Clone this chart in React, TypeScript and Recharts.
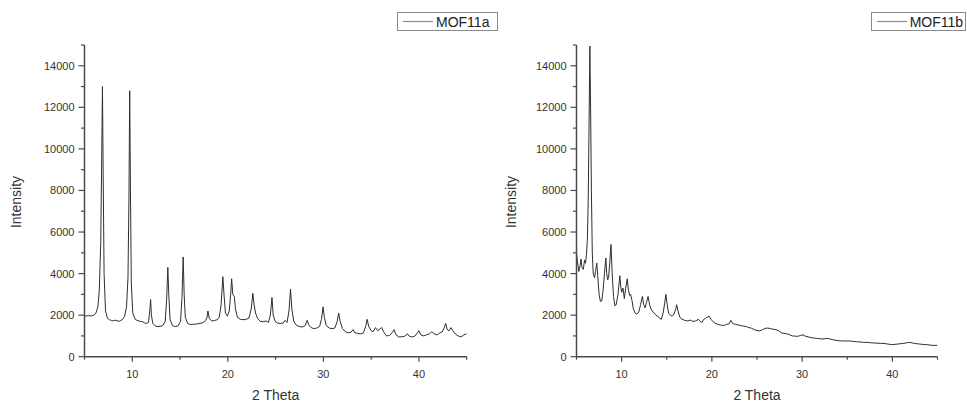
import React from 'react';
import { LineChart, Line, XAxis, YAxis, Legend, Label } from 'recharts';

// MOF11a pattern (2 Theta, Intensity)
const mof11aTheta = [
  5.0, 5.2, 5.4, 5.6, 5.8, 6.0, 6.2, 6.4, 6.55, 6.7, 6.8, 6.88, 6.95, 7.05, 7.2, 7.4, 7.6, 7.8, 8.0, 8.2,
  8.4, 8.6, 8.8, 9.0, 9.2, 9.4, 9.55, 9.65, 9.73, 9.8, 9.9, 10.05, 10.3, 10.5, 10.7, 10.9, 11.1, 11.3, 11.5, 11.7,
  11.85, 11.92, 12.0, 12.15, 12.4, 12.6, 12.9, 13.2, 13.45, 13.6, 13.72, 13.82, 13.95, 14.2, 14.5, 14.8, 15.05, 15.2, 15.33, 15.43,
  15.55, 15.8, 16.1, 16.4, 16.7, 17.0, 17.3, 17.6, 17.8, 17.92, 18.05, 18.3, 18.6, 18.9, 19.1, 19.3, 19.48, 19.6, 19.75, 19.95,
  20.15, 20.3, 20.4, 20.52, 20.68, 20.8, 21.0, 21.3, 21.6, 21.9, 22.2, 22.45, 22.62, 22.75, 22.9, 23.1, 23.4, 23.7, 24.0, 24.25,
  24.45, 24.62, 24.75, 24.95, 25.2, 25.5, 25.8, 26.0, 26.2, 26.4, 26.56, 26.7, 26.9, 27.2, 27.5, 27.8, 28.1, 28.3, 28.5, 28.8,
  29.1, 29.4, 29.6, 29.8, 29.97, 30.1, 30.3, 30.6, 30.9, 31.2, 31.45, 31.6, 31.75, 32.0, 32.3, 32.6, 32.9, 33.1, 33.3, 33.6,
  33.9, 34.2, 34.45, 34.58, 34.75, 35.0, 35.2, 35.45, 35.7, 35.95, 36.1, 36.3, 36.6, 36.9, 37.2, 37.4, 37.6, 37.9, 38.2, 38.5,
  38.8, 39.0, 39.3, 39.6, 39.85, 40.0, 40.2, 40.5, 40.8, 41.1, 41.35, 41.6, 41.9, 42.2, 42.45, 42.65, 42.8, 42.95, 43.15, 43.35,
  43.55, 43.8, 44.1, 44.4, 44.7, 45.0,
];
const mof11aIntensity = [
  1980, 1950, 1990, 1960, 1970, 2000, 2100, 2400, 3200, 5500, 9500, 13000, 9000, 4000, 2200, 1850, 1780, 1750, 1720, 1760,
  1730, 1700, 1740, 1800, 1950, 2400, 3800, 7500, 12800, 8500, 3500, 2100, 1800, 1750, 1720, 1690, 1680, 1620, 1600, 1650,
  2300, 2750, 2000, 1600, 1480, 1450, 1460, 1500, 1700, 2800, 4300, 3000, 1800, 1500, 1450, 1480, 1700, 2800, 4800, 3000,
  1900, 1600, 1550, 1560, 1570, 1600, 1620, 1700, 1850, 2200, 1850, 1720, 1740, 1780, 1900, 2500, 3850, 3000, 2100, 1950,
  2200, 3000, 3750, 3000, 2900, 2300, 1900, 1800, 1780, 1800, 1850, 2300, 3050, 2500, 2100, 1850, 1700, 1680, 1720, 1650,
  2000, 2850, 2000, 1700, 1620, 1600, 1620, 1750, 1650, 2200, 3250, 2300, 1700, 1500, 1450, 1430, 1500, 1750, 1500, 1380,
  1350, 1400, 1450, 1800, 2400, 1900, 1500, 1380, 1350, 1380, 1700, 2100, 1700, 1350, 1200, 1150, 1180, 1300, 1150, 1120,
  1100, 1150, 1500, 1800, 1450, 1250, 1200, 1400, 1250, 1350, 1400, 1200, 1000, 1020, 1150, 1300, 1050, 950, 960, 980,
  1100, 980, 950, 1000, 1150, 1250, 1050, 1000, 1050, 1100, 1200, 1100, 1050, 1150, 1200, 1400, 1600, 1300, 1250, 1400,
  1250, 1100, 1000, 950, 1050, 1100,
];

// MOF11b pattern (2 Theta, Intensity)
const mof11bTheta = [
  5.0, 5.1, 5.25, 5.4, 5.5, 5.6, 5.75, 5.9, 6.0, 6.1, 6.2, 6.3, 6.4, 6.48, 6.56, 6.65, 6.75, 6.85, 7.0, 7.1,
  7.25, 7.35, 7.5, 7.65, 7.8, 7.95, 8.1, 8.25, 8.35, 8.45, 8.55, 8.7, 8.82, 8.95, 9.1, 9.25, 9.4, 9.6, 9.8, 9.9,
  10.0, 10.15, 10.3, 10.45, 10.62, 10.75, 10.9, 11.0, 11.15, 11.3, 11.5, 11.7, 11.9, 12.1, 12.3, 12.45, 12.6, 12.75, 12.93, 13.1,
  13.25, 13.4, 13.6, 13.8, 14.0, 14.2, 14.4, 14.6, 14.78, 14.9, 15.05, 15.2, 15.4, 15.6, 15.8, 16.0, 16.1, 16.25, 16.45, 16.7,
  17.0, 17.3, 17.6, 17.9, 18.2, 18.5, 18.7, 18.9, 19.1, 19.3, 19.5, 19.7, 19.9, 20.1, 20.4, 20.7, 21.0, 21.3, 21.6, 21.9,
  22.1, 22.3, 22.6, 22.9, 23.2, 23.5, 23.8, 24.1, 24.4, 24.7, 25.0, 25.3, 25.6, 25.9, 26.2, 26.5, 26.8, 27.1, 27.4, 27.7,
  28.0, 28.3, 28.6, 28.9, 29.2, 29.5, 29.8, 30.1, 30.4, 30.7, 31.0, 31.3, 31.6, 31.9, 32.2, 32.5, 32.8, 33.1, 33.4, 33.7,
  34.0, 34.4, 34.8, 35.2, 35.6, 36.0, 36.4, 36.8, 37.2, 37.6, 38.0, 38.4, 38.8, 39.2, 39.6, 40.0, 40.4, 40.8, 41.2, 41.6,
  41.9, 42.2, 42.6, 43.0, 43.4, 43.8, 44.2, 44.6, 45.0,
];
const mof11bIntensity = [
  5000, 4600, 4100, 4400, 4700, 4300, 4200, 4650, 4500, 4900, 5600, 7500, 11500, 14950, 12000, 8000, 5000, 4000, 3800, 4100,
  4500, 3900, 3000, 2650, 2700, 3200, 4000, 4750, 4000, 3700, 3800, 4600, 5400, 4000, 2900, 2450, 2500, 3000, 3900, 3400,
  3100, 3300, 2800, 3300, 3750, 3200, 2950, 3000, 2700, 2300, 2100, 2050, 2150, 2500, 2900, 2500, 2350, 2600, 2900, 2500,
  2300, 2200, 2100, 2000, 1950, 1850, 1800, 2100, 2600, 3000, 2500, 2100, 2000, 1950, 2050, 2300, 2500, 2200, 1900, 1800,
  1750, 1720, 1760, 1700, 1720, 1800, 1700, 1650, 1800, 1850, 1900, 1950, 1800, 1700, 1600, 1550, 1520, 1500, 1550, 1580,
  1750, 1600, 1560, 1530, 1500, 1470, 1450, 1400, 1370, 1300, 1260, 1240, 1300, 1360, 1380, 1350, 1320, 1300, 1250, 1150,
  1120, 1100, 1060, 1000, 990, 980, 1020, 1050, 980, 950, 920, 900, 880, 870, 850, 870, 880, 850, 820, 790,
  770, 760, 755, 760, 740, 720, 710, 690, 690, 670, 660, 650, 640, 630, 600, 580, 600, 620, 640, 670,
  690, 660, 630, 610, 590, 580, 560, 540, 550,
];

const thetaTicks = [5, 10, 15, 20, 25, 30, 35, 40, 45];
const intensityTicks = [0, 1000, 2000, 3000, 4000, 5000, 6000, 7000, 8000, 9000, 10000, 11000, 12000, 13000, 14000, 15000];

const AXIS = '#4a4a4a';
const TEXT = '#333';
const FONT = '"Liberation Sans", Arial, sans-serif';

const zip = (xs: number[], ys: number[]) => xs.map((t, i) => ({ theta: t, intensity: ys[i] }));

const YTick = (props: any) => {
  const { x, y, payload } = props;
  const v = payload.value as number;
  const major = v % 2000 === 0 && v <= 14000;
  const len = major ? 6 : 3.5;
  return (
    <g>
      <line x1={x - len} x2={x} y1={y} y2={y} stroke={AXIS} strokeWidth={1.2} />
      {major && (
        <text x={x - len - 4} y={y} dy={4} textAnchor="end" fontSize={11} fill={TEXT} fontFamily={FONT}>
          {v}
        </text>
      )}
    </g>
  );
};

const XTick = (props: any) => {
  const { x, y, payload } = props;
  const v = payload.value as number;
  const major = v % 10 === 0;
  const len = major ? 5 : 3;
  return (
    <g>
      <line x1={x} x2={x} y1={y} y2={y + len} stroke={AXIS} strokeWidth={1.2} />
      {major && (
        <text x={x} y={y + 21} textAnchor="middle" fontSize={11} fill={TEXT} fontFamily={FONT}>
          {v}
        </text>
      )}
    </g>
  );
};

const LegendBox = ({ name, width }: { name: string; width: number }) => (
  <div
    style={{
      boxSizing: 'border-box',
      width,
      height: 19,
      border: '1px solid #8a8a8a',
      background: '#fff',
      display: 'flex',
      alignItems: 'center',
      fontFamily: FONT,
      fontSize: 14,
      color: '#222',
      whiteSpace: 'nowrap',
    }}
  >
    <svg width={38} height={17} style={{ display: 'block' }}>
      <line x1={5} x2={35} y1={8.5} y2={8.5} stroke="#8a8a8a" strokeWidth={1.2} />
    </svg>
    <span>{name}</span>
  </div>
);

type PanelProps = {
  name: string;
  data: { theta: number; intensity: number }[];
  left: number;
  width: number;
  yAxisWidth: number;
  marginRight: number;
  legendLeft: number;
  legendWidth: number;
  yTitleX: number;
};

const Panel = ({ name, data, left, width, yAxisWidth, marginRight, legendLeft, legendWidth, yTitleX }: PanelProps) => (
  <div style={{ position: 'absolute', left, top: 0 }}>
    <LineChart
      width={width}
      height={403}
      data={data}
      margin={{ top: 45, right: marginRight, bottom: 0.3, left: 0 }}
    >
      <XAxis
        dataKey="theta"
        type="number"
        domain={[5, 45]}
        ticks={thetaTicks}
        allowDataOverflow
        height={46}
        tickSize={0}
        tickMargin={0}
        tickLine={false}
        axisLine={{ stroke: AXIS, strokeWidth: 1.5 }}
        tick={<XTick />}
        interval={0}
      >
        <Label
          content={(p: any) => {
            const vb = p.viewBox || {};
            const cx = (vb.x ?? 0) + (vb.width ?? 0) / 2;
            return (
              <text x={cx} y={400} textAnchor="middle" fontSize={14} fill={TEXT} fontFamily={FONT}>
                2 Theta
              </text>
            );
          }}
        />
      </XAxis>
      <YAxis
        type="number"
        domain={[0, 15000]}
        ticks={intensityTicks}
        allowDataOverflow
        width={yAxisWidth}
        tickSize={0}
        tickMargin={0}
        tickLine={false}
        axisLine={{ stroke: AXIS, strokeWidth: 1.5 }}
        tick={<YTick />}
        interval={0}
      >
        <Label
          content={() => (
            <text
              x={yTitleX}
              y={202}
              textAnchor="middle"
              fontSize={14}
              fill={TEXT}
              fontFamily={FONT}
              transform={`rotate(-90 ${yTitleX} 202)`}
            >
              Intensity
            </text>
          )}
        />
      </YAxis>
      <Legend
        layout="vertical"
        align="center"
        verticalAlign="middle"
        wrapperStyle={{ position: 'absolute', left: legendLeft, top: 12, width: legendWidth, height: 19 }}
        content={() => <LegendBox name={name} width={legendWidth} />}
      />
      <Line
        type="linear"
        dataKey="intensity"
        name={name}
        stroke="#2e2e2e"
        strokeWidth={1}
        dot={false}
        activeDot={false}
        isAnimationActive={false}
      />
    </LineChart>
  </div>
);

export default function App() {
  const dataA = zip(mof11aTheta, mof11aIntensity);
  const dataB = zip(mof11bTheta, mof11bIntensity);
  return (
    <div style={{ position: 'absolute', left: 0, top: 0, width: 967, height: 403, background: '#fff' }}>
      <Panel
        name="MOF11a"
        data={dataA}
        left={0}
        width={480}
        yAxisWidth={84.5}
        marginRight={13.3}
        legendLeft={397}
        legendWidth={101}
        yTitleX={21}
      />
      <Panel
        name="MOF11b"
        data={dataB}
        left={480}
        width={487}
        yAxisWidth={96.5}
        marginRight={29.5}
        legendLeft={390.7}
        legendWidth={95}
        yTitleX={36}
      />
    </div>
  );
}
